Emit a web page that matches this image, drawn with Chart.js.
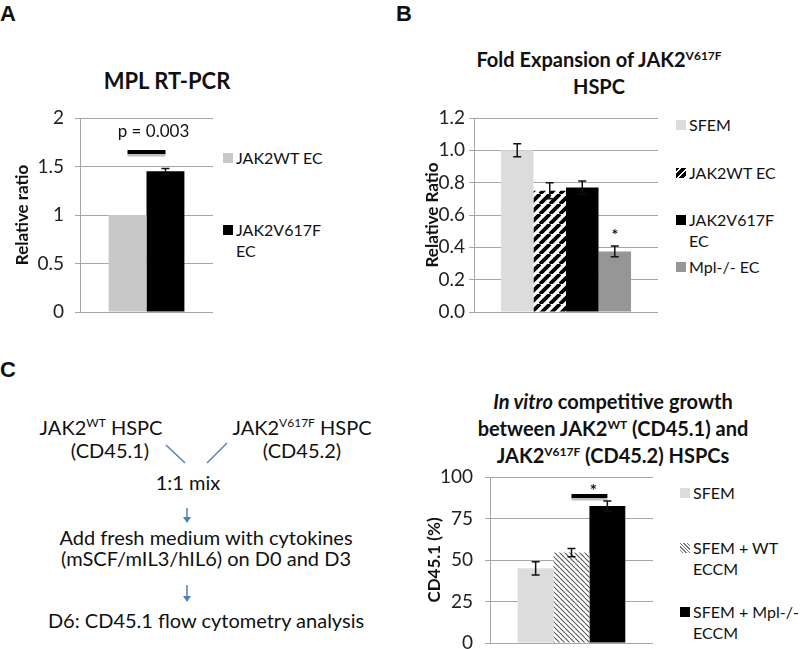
<!DOCTYPE html>
<html>
<head>
<meta charset="utf-8">
<script src="https://cdn.jsdelivr.net/npm/chart.js@4.4.1/dist/chart.umd.min.js"></script>
<style>
  html, body { margin: 0; padding: 0; background: #fff; width: 800px; height: 649px; overflow: hidden; }
  body { position: relative; font-family: Lato, "Open Sans", sans-serif; color: #111; }
  .abs { position: absolute; white-space: nowrap; }
  .c { transform: translate(-50%, -50%); text-align: center; }
  .panel { font: bold 22px "Liberation Sans", Arial, sans-serif; }
  .title { font-weight: bold; font-size: 20px; line-height: 27px; }
  .title sup { font-size: 12px; vertical-align: 7px; line-height: 0; }
  .diag { font-size: 20px; }
  .diag sup { font-size: 12px; vertical-align: 8px; line-height: 0; }
  .leg { font-size: 16px; line-height: 21px; }
  .sw { position: absolute; width: 10px; height: 10px; }
  canvas { position: absolute; }
</style>
</head>
<body>
<div class="abs panel" style="left:0;top:1px">A</div>
<div class="abs panel" style="left:396px;top:1px">B</div>
<div class="abs panel" style="left:0;top:357px">C</div>

<div class="abs c title" style="left:167px;top:80px;font-size:22px">MPL RT-PCR</div>
<div class="abs c title" style="left:599px;top:73px">Fold Expansion of JAK2<sup>V617F</sup><br>HSPC</div>
<div class="abs c title" style="left:613px;top:428px"><i>In vitro</i> competitive growth<br>between JAK2<sup>WT</sup> (CD45.1) and<br>JAK2<sup>V617F</sup> (CD45.2) HSPCs</div>

<div class="abs c diag" style="left:101px;top:427px">JAK2<sup>WT</sup> HSPC</div>
<div class="abs c diag" style="left:110px;top:450px">(CD45.1)</div>
<div class="abs c diag" style="left:302px;top:427px">JAK2<sup>V617F</sup> HSPC</div>
<div class="abs c diag" style="left:302px;top:450px">(CD45.2)</div>
<div class="abs c diag" style="left:188px;top:482px">1:1 mix</div>
<div class="abs c diag" style="left:206px;top:537px">Add fresh medium with cytokines</div>
<div class="abs c diag" style="left:206px;top:558px">(mSCF/mIL3/hIL6) on D0 and D3</div>
<div class="abs c diag" style="left:206px;top:620px">D6: CD45.1 flow cytometry analysis</div>
<svg class="abs" style="left:0;top:0" width="400" height="649">
  <g stroke="#4f81bd" stroke-width="1.5" fill="none">
    <line x1="166" y1="445" x2="185" y2="463"/>
    <line x1="227" y1="443" x2="207" y2="463"/>
    <line x1="187" y1="508" x2="187" y2="519"/>
    <line x1="187" y1="585" x2="187" y2="598"/>
  </g>
  <g fill="#4f81bd">
    <polygon points="183,517 191,517 187,523"/>
    <polygon points="183,596 191,596 187,602"/>
  </g>
</svg>

<canvas id="chartA" width="216" height="218" style="left:0;top:104px"></canvas>
<canvas id="chartB" width="260" height="218" style="left:400px;top:104px"></canvas>
<canvas id="chartC" width="256" height="192" style="left:400px;top:463px"></canvas>

<div id="legA"></div>
<div id="legB"></div>
<div id="legC"></div>

<script>
// ---- data ----
const labelsA = ['JAK2WT EC', 'JAK2V617F EC'];
const valuesA = [1.0, 1.45];
const errorsA = [0, 0.03];
const ticksA = [0, 0.5, 1, 1.5, 2];

const labelsB = ['SFEM', 'JAK2WT EC', 'JAK2V617F EC', 'Mpl-/- EC'];
const valuesB = [1.0, 0.75, 0.77, 0.375];
const errorsB = [0.04, 0.05, 0.04, 0.033];
const ticksB = [0, 0.2, 0.4, 0.6, 0.8, 1.0, 1.2];

const labelsC = ['SFEM', 'SFEM + WT ECCM', 'SFEM + Mpl-/- ECCM'];
const valuesC = [45, 54.5, 82.5];
const errorsC = [4, 2.5, 3];
const ticksC = [0, 25, 50, 75, 100];

const FONT = 'Lato, "Open Sans", sans-serif';
const GRID = '#a6a6a6';

function hatch(size, width, color, dir) {
  const c = document.createElement('canvas');
  c.width = size; c.height = size;
  const x = c.getContext('2d');
  x.fillStyle = '#fff';
  x.fillRect(0, 0, size, size);
  x.strokeStyle = color;
  x.lineWidth = width;
  x.beginPath();
  for (let k = -1; k <= 1; k++) {
    if (dir === '/') {
      x.moveTo(k * size, size); x.lineTo(k * size + size, 0);
    } else {
      x.moveTo(k * size, 0); x.lineTo(k * size + size, size);
    }
  }
  x.stroke();
  return x.createPattern(c, 'repeat');
}

// error bars, significance lines and stars
const marks = {
  id: 'marks',
  afterDatasetsDraw(chart, args, opts) {
    const ctx = chart.ctx;
    const y = chart.scales.y;
    ctx.save();
    (opts.errors || []).forEach((e, i) => {
      if (!e) return;
      const bar = chart.getDatasetMeta(i).data[0];
      const v = chart.data.datasets[i].data[0];
      const cap = 4;
      ctx.strokeStyle = '#111';
      ctx.lineWidth = 1.5;
      ctx.beginPath();
      ctx.moveTo(bar.x, y.getPixelForValue(v - e));
      ctx.lineTo(bar.x, y.getPixelForValue(v + e));
      ctx.moveTo(bar.x - cap, y.getPixelForValue(v + e));
      ctx.lineTo(bar.x + cap, y.getPixelForValue(v + e));
      ctx.moveTo(bar.x - cap, y.getPixelForValue(v - e));
      ctx.lineTo(bar.x + cap, y.getPixelForValue(v - e));
      ctx.stroke();
    });
    if (opts.sig) {
      const s = opts.sig;
      const x1 = chart.getDatasetMeta(s.from).data[0].x;
      const x2 = chart.getDatasetMeta(s.to).data[0].x;
      const py = y.getPixelForValue(s.value);
      ctx.strokeStyle = 'rgba(0,0,0,0.25)';
      ctx.lineWidth = 5;
      ctx.beginPath(); ctx.moveTo(x1, py + 2); ctx.lineTo(x2, py + 2); ctx.stroke();
      ctx.strokeStyle = '#000';
      ctx.lineWidth = 4;
      ctx.beginPath(); ctx.moveTo(x1, py); ctx.lineTo(x2, py); ctx.stroke();
      ctx.fillStyle = '#111';
      ctx.font = s.font;
      ctx.textAlign = 'center';
      ctx.textBaseline = 'middle';
      ctx.fillText(s.label, (x1 + x2) / 2 + (s.dx || 0), y.getPixelForValue(s.labelValue));
    }
    if (opts.star) {
      const bar = chart.getDatasetMeta(opts.star.index).data[0];
      ctx.fillStyle = '#111';
      ctx.font = 'bold 16px ' + FONT;
      ctx.textAlign = 'center';
      ctx.textBaseline = 'middle';
      ctx.fillText('*', bar.x, y.getPixelForValue(opts.star.value));
    }
    ctx.restore();
  }
};

function makeChart(id, labels, values, colors, ticks, fmt, cfg) {
  return new Chart(document.getElementById(id), {
    type: 'bar',
    data: {
      labels: [''],
      datasets: labels.map((l, i) => ({
        label: l,
        data: [values[i]],
        backgroundColor: colors[i],
        borderWidth: 0,
        barPercentage: 1,
        categoryPercentage: cfg.cat
      }))
    },
    options: {
      responsive: false,
      animation: false,
      layout: { padding: cfg.pad },
      plugins: {
        legend: { display: false },
        tooltip: { enabled: false },
        marks: cfg.marks
      },
      scales: {
        x: { display: false },
        y: {
          min: ticks[0],
          max: ticks[ticks.length - 1],
          afterBuildTicks: s => { s.ticks = ticks.map(v => ({ value: v })); },
          afterFit: s => { s.width = cfg.axisW; s.paddingTop = 0; s.paddingBottom = 0; },
          grid: { color: GRID, lineWidth: 1, tickLength: 5 },
          border: { display: true, color: GRID, width: 1 },
          ticks: {
            padding: cfg.tickPad,
            color: '#222',
            font: { family: FONT, size: 19 },
            callback: v => fmt(v)
          },
          title: {
            display: true,
            text: cfg.title,
            color: '#111',
            font: { family: FONT, size: 17, weight: 'bold' },
            padding: { top: cfg.titlePad, bottom: 0 }
          }
        }
      }
    },
    plugins: [marks]
  });
}

const hatchB = hatch(10, 3.8, '#000', '/');
const hatchC = hatch(5, 1.1, '#555', '\\');

const colorsA = ['#c8c8c8', '#000000'];
const colorsB = ['#dcdcdc', hatchB, '#000000', '#969696'];
const colorsC = ['#dcdcdc', hatchC, '#000000'];

makeChart('chartA', labelsA, valuesA, colorsA, ticksA, v => String(v), {
  cat: 0.57, axisW: 80, tickPad: 11, titlePad: 12, title: 'Relative ratio',
  pad: { top: 14, bottom: 10, left: 0, right: 3 },
  marks: { errors: errorsA, sig: { from: 0, to: 1, value: 1.65, label: 'p = 0.003', labelValue: 1.86, dx: 7, font: '17px ' + FONT } }
});
makeChart('chartB', labelsB, valuesB, colorsB, ticksB, v => v.toFixed(1), {
  cat: 0.707, axisW: 74, tickPad: 4, titlePad: 22, title: 'Relative Ratio',
  pad: { top: 14, bottom: 10, left: 0, right: 2 },
  marks: { errors: errorsB, star: { index: 3, value: 0.475 } }
});
makeChart('chartC', labelsC, valuesC, colorsC, ticksC, v => String(v), {
  cat: 0.66, axisW: 90, tickPad: 12, titlePad: 24, title: 'CD45.1 (%)',
  pad: { top: 14, bottom: 12, left: 0, right: 3 },
  marks: { errors: errorsC, sig: { from: 1, to: 2, value: 88.5, label: '*', labelValue: 91.5, dx: 4, font: 'bold 17px ' + FONT } }
});

// html legends, swatches share the dataset colours
function swatchCss(c, kind) {
  if (kind === 'b') return 'background:repeating-linear-gradient(-45deg,#fff 0 2px,#000 2px 5px)';
  if (kind === 'c') return 'background:repeating-linear-gradient(45deg,#fff 0 1.5px,#777 1.5px 2.5px)';
  return 'background:' + c;
}
function legend(id, items) {
  const host = document.getElementById(id);
  items.forEach(it => {
    const sw = document.createElement('div');
    sw.className = 'sw';
    sw.style.cssText += ';left:' + it.x + 'px;top:' + (it.y - 5) + 'px;' + swatchCss(it.color, it.kind);
    host.appendChild(sw);
    const t = document.createElement('div');
    t.className = 'abs leg';
    t.style.left = (it.x + 13) + 'px';
    t.style.top = (it.y - 11) + 'px';
    t.innerHTML = it.text.join('<br>');
    host.appendChild(t);
  });
}
legend('legA', [
  { x: 223, y: 158, color: colorsA[0], text: ['JAK2WT EC'] },
  { x: 223, y: 230, color: colorsA[1], text: ['JAK2V617F', 'EC'] }
]);
legend('legB', [
  { x: 676, y: 125, color: colorsB[0], text: ['SFEM'] },
  { x: 676, y: 173, color: '#000', kind: 'b', text: ['JAK2WT EC'] },
  { x: 676, y: 220, color: colorsB[2], text: ['JAK2V617F', 'EC'] },
  { x: 676, y: 267, color: colorsB[3], text: ['Mpl-/- EC'] }
]);
legend('legC', [
  { x: 680, y: 493, color: colorsC[0], text: ['SFEM'] },
  { x: 680, y: 548, color: '#777', kind: 'c', text: ['SFEM + WT', 'ECCM'] },
  { x: 680, y: 612, color: colorsC[2], text: ['SFEM + Mpl-/-', 'ECCM'] }
]);
</script>
</body>
</html>
